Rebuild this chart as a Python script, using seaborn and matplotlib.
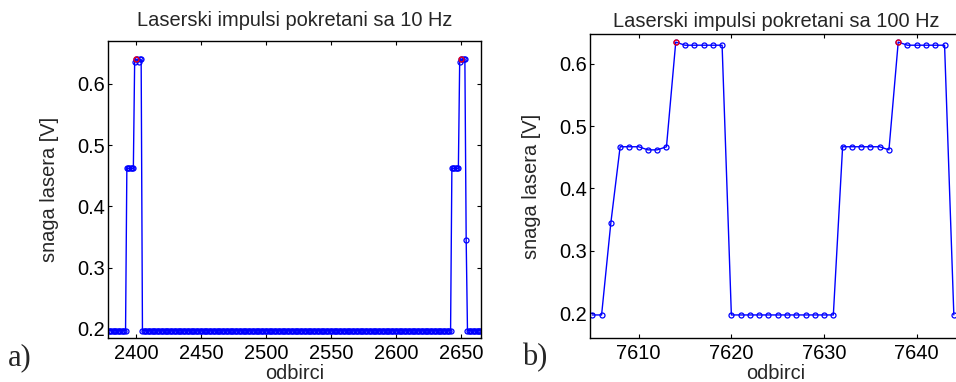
import numpy as np
import pandas as pd
import matplotlib
matplotlib.use("Agg")
import matplotlib.pyplot as plt
import seaborn as sns

# panel a) 10 Hz - runs of constant level
a_start = 2379
a_levels = [0.197, 0.462, 0.636, 0.640, 0.640, 0.636, 0.640, 0.640,
            0.197, 0.462, 0.636, 0.640, 0.640, 0.640, 0.640, 0.345, 0.197]
a_counts = [14, 6, 1, 1, 1, 1, 1, 1,
            238, 6, 1, 1, 1, 1, 1, 1, 11]
a_peak_x = [2400, 2650]
a_peak_y = [0.640, 0.640]

# panel b) 100 Hz
b_x = list(range(7605, 7645))
b_y = [0.197, 0.197, 0.345, 0.467, 0.467, 0.467, 0.462, 0.462, 0.467, 0.635,
       0.630, 0.630, 0.630, 0.630, 0.630, 0.197, 0.197, 0.197, 0.197, 0.197,
       0.197, 0.197, 0.197, 0.197, 0.197, 0.197, 0.197, 0.467, 0.467, 0.467,
       0.467, 0.467, 0.462, 0.635, 0.630, 0.630, 0.630, 0.630, 0.630, 0.197]
b_peak_x = [7614, 7638]
b_peak_y = [0.635, 0.635]

a_y = np.repeat(a_levels, a_counts)
a_x = np.arange(a_start, a_start + len(a_y))

sns.set_style("ticks")
plt.rcParams['font.family'] = ['Liberation Sans', 'DejaVu Sans']
plt.rcParams['xtick.direction'] = 'in'
plt.rcParams['ytick.direction'] = 'in'

fig = plt.figure(figsize=(9.56, 3.82), dpi=100)
ax1 = fig.add_axes([108 / 956, 44 / 382, 373 / 956, 297 / 382])
ax2 = fig.add_axes([590 / 956, 44 / 382, 372 / 956, 304 / 382])

line_kw = dict(color='blue', linewidth=1, marker='o', markersize=3.6,
               markerfacecolor='none', markeredgecolor='blue', markeredgewidth=0.9)
peak_kw = dict(color='red', linestyle='none', marker='o', markersize=3.6,
               markerfacecolor='none', markeredgecolor='red', markeredgewidth=0.9)

sns.lineplot(x=a_x, y=a_y, ax=ax1, **line_kw)
sns.lineplot(x=a_peak_x, y=a_peak_y, ax=ax1, **peak_kw)
sns.lineplot(x=b_x, y=b_y, ax=ax2, **line_kw)
sns.lineplot(x=b_peak_x, y=b_peak_y, ax=ax2, **peak_kw)

ax1.set_xlim(2378.5, 2665.4)
ax1.set_ylim(0.185, 0.67)
ax1.set_xticks([2400, 2450, 2500, 2550, 2600, 2650])
ax2.set_xlim(7604.75, 7644.88)
ax2.set_ylim(0.160, 0.648)
ax2.set_xticks([7610, 7620, 7630, 7640])

titles = ["Laserski impulsi pokretani sa 10 Hz", "Laserski impulsi pokretani sa 100 Hz"]
pads = [11, 5]
for ax, t, p in zip([ax1, ax2], titles, pads):
    ax.set_yticks([0.2, 0.3, 0.4, 0.5, 0.6])
    ax.set_yticklabels(["0.2", "0.3", "0.4", "0.5", "0.6"])
    ax.tick_params(axis='both', which='major', labelsize=14.4, length=3,
                   width=0.8, top=True, right=True, colors='black')
    ax.tick_params(axis='y', pad=2)
    ax.tick_params(axis='x', pad=4)
    for s in ax.spines.values():
        s.set_visible(True)
        s.set_linewidth(1)
        s.set_color('black')
    ax.set_title(t, fontsize=14.4, pad=p)
    ax.set_ylabel("snaga lasera [V]", fontsize=14.4)
    ax.set_xlabel("odbirci", fontsize=14.4)

ax1.yaxis.set_label_coords(-45 / 373 - 0.01, 0.5)
ax2.yaxis.set_label_coords(-45 / 372 - 0.01, 0.5)
ax1.xaxis.set_label_coords(0.5, -26 / 297)
ax2.xaxis.set_label_coords(0.5, -26 / 304)

fig.text(8 / 956, 17 / 382, "a)", fontsize=22, family=['Liberation Serif', 'DejaVu Serif'],
         va='baseline', ha='left')
fig.text(522 / 956, 17 / 382, "b)", fontsize=22, family=['Liberation Serif', 'DejaVu Serif'],
         va='baseline', ha='left')

fig.savefig("out.png", dpi=100)
